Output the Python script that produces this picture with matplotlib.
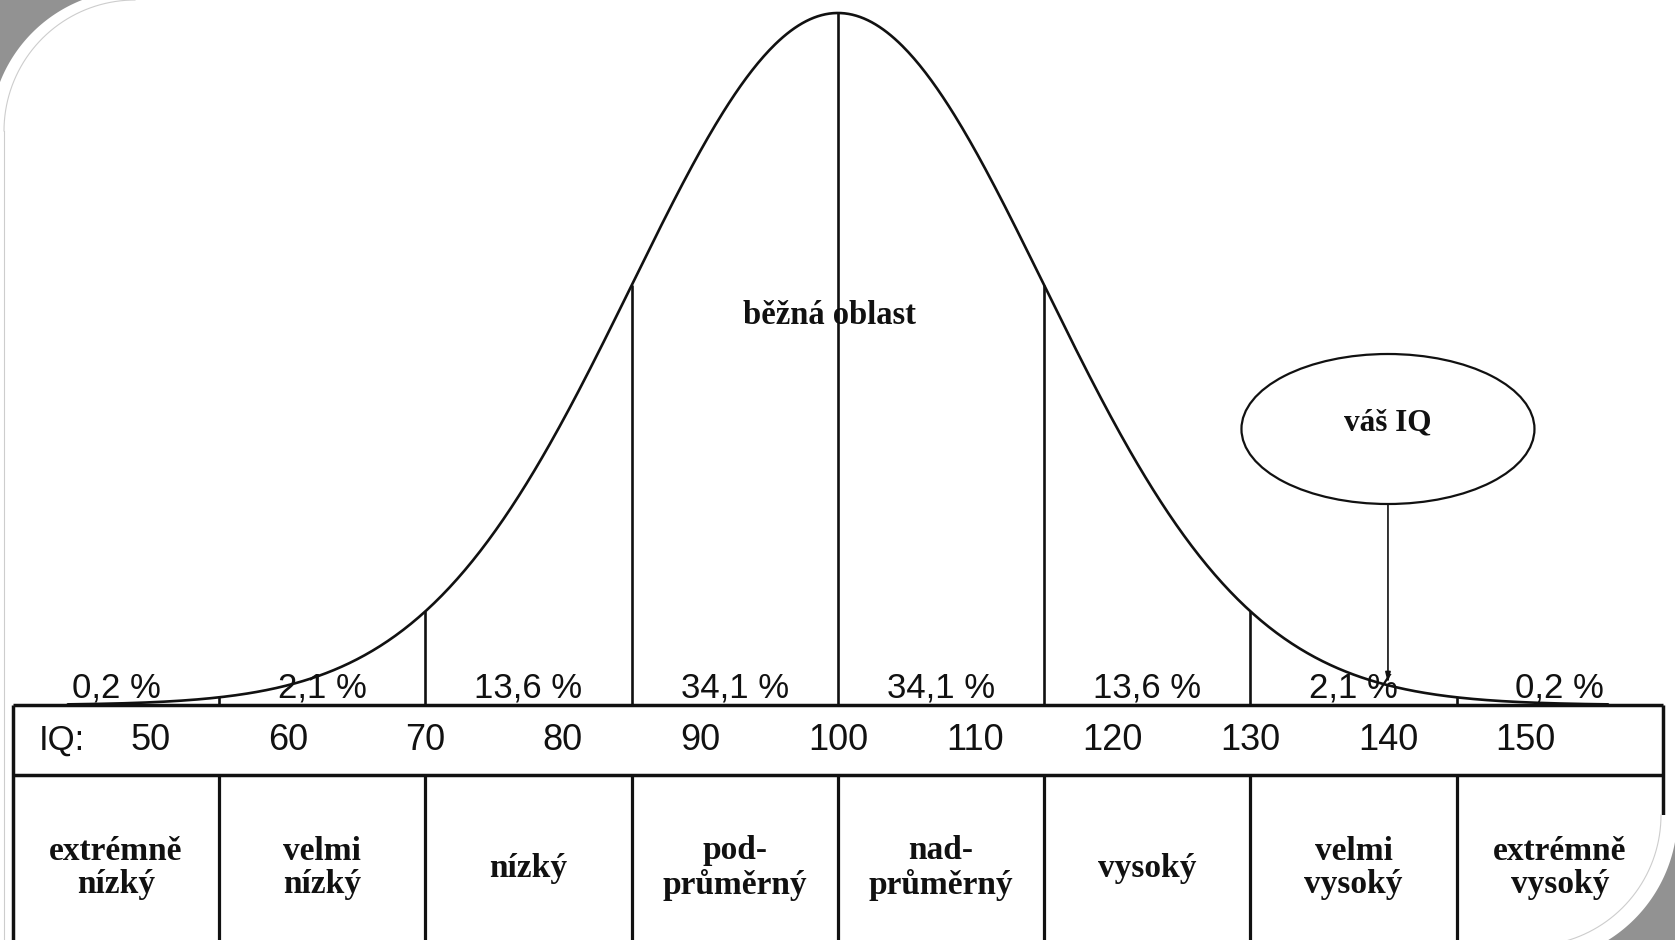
import numpy as np
import matplotlib
matplotlib.use("Agg")
import matplotlib.pyplot as plt
from matplotlib.patches import Ellipse, Polygon

# ---------------- data ----------------
iq_ticks = [50, 60, 70, 80, 90, 100, 110, 120, 130, 140, 150]
boundaries = [55, 70, 85, 100, 115, 130, 145]
pct_labels = ["0,2 %", "2,1 %", "13,6 %", "34,1 %", "34,1 %", "13,6 %", "2,1 %", "0,2 %"]
categories = ["extrémně\nnízký", "velmi\nnízký", "nízký", "pod-\nprůměrný",
              "nad-\nprůměrný", "vysoký", "velmi\nvysoký", "extrémně\nvysoký"]
mean_iq = 100
sd_iq = 15
your_iq = 140
range_min, range_max = 40, 160
center_label = "běžná oblast"
bubble_label = "váš IQ"

# ---------------- figure ----------------
W, H = 1675, 940
fig = plt.figure(figsize=(W / 100, H / 100), dpi=100)
fig.patch.set_facecolor("white")

SANS = ["Liberation Sans", "DejaVu Sans"]
SERIF = ["Liberation Serif", "DejaVu Serif"]
INK = "#111111"

ax = fig.add_axes([0, 0, 1, 1])
ax.set_axis_off()

left_px, right_px = 12.8, 1663.0
px_per_iq = (right_px - left_px) / (range_max - range_min)
x_left = range_min - left_px / px_per_iq
ax.set_xlim(x_left, x_left + W / px_per_iq)

peak = 1.0 / (sd_iq * np.sqrt(2 * np.pi))
u = peak / 692.0          # data units per pixel (vertical)
ax.set_ylim(-235 * u, 705 * u)


def pdf(x):
    x = np.asarray(x, dtype=float)
    return np.exp(-0.5 * ((x - mean_iq) / sd_iq) ** 2) / (sd_iq * np.sqrt(2 * np.pi))


# bell curve
xs = np.linspace(44, 156, 800)
ax.plot(xs, pdf(xs), color=INK, lw=1.9, solid_capstyle="round", zorder=3)

# dividers under the curve
b = np.array(boundaries, dtype=float)
ax.vlines(b, 0, pdf(b), color=INK, lw=1.9, zorder=3)

# table
row_h = 70 * u
bottom = -400 * u
ax.hlines([0, -row_h], range_min, range_max, color=INK, lw=2.5, zorder=4)
ax.vlines([range_min, range_max], bottom, 0, color=INK, lw=2.5, zorder=4)
ax.vlines(b, bottom, -row_h, color=INK, lw=2.3, zorder=4)

edges = [range_min] + boundaries + [range_max]
centers = [(edges[i] + edges[i + 1]) / 2 for i in range(len(edges) - 1)]

# percentages
for c, t in zip(centers, pct_labels):
    ax.text(c, 7 * u, t, ha="center", va="baseline", fontsize=25,
            family=SANS, color=INK, zorder=5)

# IQ numbers
ax.text(range_min + 3.6, -row_h / 2, "IQ:", ha="center", va="center",
        fontsize=25, family=SANS, color=INK)
for v in iq_ticks:
    ax.text(v, -row_h / 2, str(v), ha="center", va="center", fontsize=26,
            family=SANS, color=INK)

# category labels
for c, t in zip(centers, categories):
    ax.text(c, -163 * u, t, ha="center", va="center", fontsize=24,
            family=SERIF, fontweight="bold", color=INK, linespacing=1.12,
            multialignment="center")

# "běžná oblast"
ax.text(mean_iq - 0.6, 389 * u, center_label, ha="center", va="center",
        fontsize=23.5, family=SERIF, fontweight="bold", color=INK, zorder=2)

# bubble "váš IQ"
ell_cy = 276 * u
ell_h = 150 * u
ell = Ellipse((your_iq, ell_cy), 293 / px_per_iq, ell_h, fc="white",
              ec=INK, lw=1.6, zorder=5)
ax.add_patch(ell)
ax.text(your_iq, ell_cy + 6 * u, bubble_label, ha="center", va="center",
        fontsize=22.5, family=SERIF, fontweight="bold", color=INK, zorder=6)
ax.annotate("", xy=(your_iq, float(pdf(your_iq)) + 2 * u),
            xytext=(your_iq, ell_cy - ell_h / 2),
            arrowprops=dict(arrowstyle="-|>,head_length=0.6,head_width=0.15",
                            color=INK, lw=1.2, shrinkA=0, shrinkB=0),
            zorder=6)

# ---------------- slide frame (rounded corners) ----------------
ov = fig.add_axes([0, 0, 1, 1], zorder=10)
ov.set_xlim(0, W)
ov.set_ylim(H, 0)
ov.set_axis_off()
ov.patch.set_alpha(0)

GRAY = "#929292"
FAINT = "#cdcdcd"


def arc(cx, cy, r, a0, a1, n=200):
    t = np.radians(np.linspace(a0, a1, n))
    return np.column_stack([cx + r * np.cos(t), cy + r * np.sin(t)])


# top-left
tl = arc(135, 135, 145, 180, 270)
ov.add_patch(Polygon(np.vstack([tl, [[-30, -30]]]), closed=True, fc=GRAY,
                     ec="none", zorder=3))
fl = arc(135, 131, 131, 180, 270)
ov.plot(fl[:, 0], fl[:, 1], color=FAINT, lw=0.8, zorder=2)
ov.plot([4, 4], [131, H + 5], color=FAINT, lw=0.8, zorder=2)

# bottom-right
inner = arc(1530, 815, 131, 0, 90)
ov.add_patch(Polygon(np.vstack([inner, [[1530, H + 40], [W + 40, H + 40], [W + 40, 815]]]),
                     closed=True, fc="white", ec="none", zorder=1))
ov.plot(inner[:, 0], inner[:, 1], color=FAINT, lw=0.8, zorder=2)
outer = arc(1530, 815, 147.5, 0, 90)
ov.add_patch(Polygon(np.vstack([outer, [[W + 40, H + 40]]]), closed=True,
                     fc=GRAY, ec="none", zorder=3))

fig.savefig("out.png", dpi=100, facecolor="white")
